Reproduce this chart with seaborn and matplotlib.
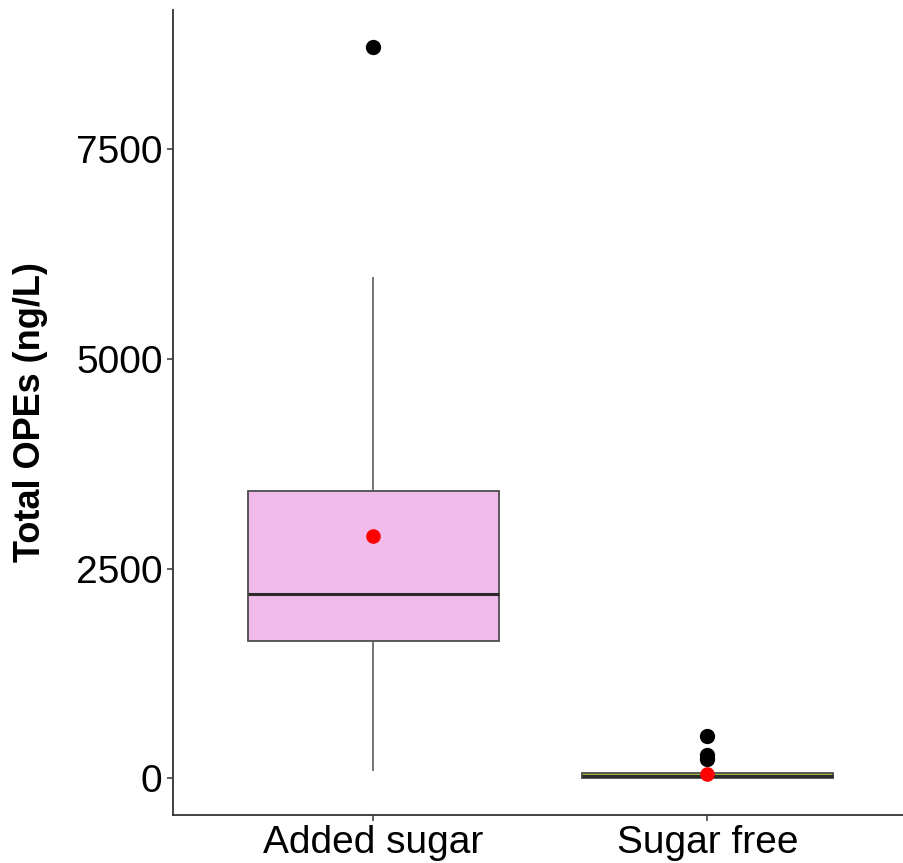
import numpy as np
import pandas as pd
import matplotlib
matplotlib.use("Agg")
import matplotlib.pyplot as plt
import seaborn as sns

# Total OPEs concentrations (ng/L) by beverage group
categories = ["Added sugar", "Sugar free"]
added_sugar = [92, 730, 1300, 1638, 1900, 2050, 2202, 2600, 3100, 3430, 3876, 5982, 8722]
sugar_free = [0, 1, 1, 2, 2, 3, 3, 4, 4, 4, 5, 5,
              6, 8, 10, 12, 14, 16, 18, 20, 22, 24, 26,
              28, 32, 36, 40, 44, 48, 52, 56, 60, 64, 70,
              72, 74, 76, 78, 80, 82, 85, 88,
              231, 280, 506]
y_ticks = [0, 2500, 5000, 7500]
fill_colors = ["#F0BBEA", "#A3C23C"]

df = pd.DataFrame({
    "group": [categories[0]] * len(added_sugar) + [categories[1]] * len(sugar_free),
    "value": added_sugar + sugar_free,
})

sns.set_style("white")
plt.rcParams["font.family"] = ["Liberation Sans", "DejaVu Sans"]

fig = plt.figure(figsize=(9.04, 8.63), dpi=100)
ax = fig.add_axes([0.1914, 0.0556, 0.8128, 0.9328])

sns.boxplot(
    data=df, x="group", y="value", hue="group", order=categories,
    hue_order=categories, palette=fill_colors, saturation=1, legend=False,
    ax=ax, width=0.75, linecolor="#4d4d4d", linewidth=1.3, showcaps=False,
    showmeans=True,
    meanprops=dict(marker="o", markerfacecolor="#ff0000",
                   markeredgecolor="#ff0000", markersize=9.5),
    flierprops=dict(marker="o", markerfacecolor="black",
                    markeredgecolor="black", markersize=10),
    medianprops=dict(color="#2a2a2a", linewidth=2.2),
    whiskerprops=dict(color="#6a6a6a", linewidth=1.3),
    boxprops=dict(edgecolor="#4d4d4d", linewidth=1.3),
)

vals = np.array(added_sugar + sugar_free, dtype=float)
span = vals.max() - vals.min()
ax.set_ylim(vals.min() - 0.05 * span, vals.max() + 0.05 * span)
ax.set_xlim(-0.6, 1.6)

ax.set_yticks(y_ticks)
ax.set_yticklabels([str(t) for t in y_ticks])
ax.tick_params(axis="both", which="both", length=4, width=1.1,
               color="#333333", labelsize=28, labelcolor="black", pad=3.5,
               left=True, bottom=True)

for side in ("top", "right"):
    ax.spines[side].set_visible(False)
for side in ("left", "bottom"):
    ax.spines[side].set_color("#333333")
    ax.spines[side].set_linewidth(1.3)

ax.set_xlabel("")
ax.set_ylabel("Total OPEs (ng/L)", fontsize=26, fontweight="bold",
              color="black", labelpad=20)
ax.grid(False)

fig.savefig("out.png", dpi=100)
